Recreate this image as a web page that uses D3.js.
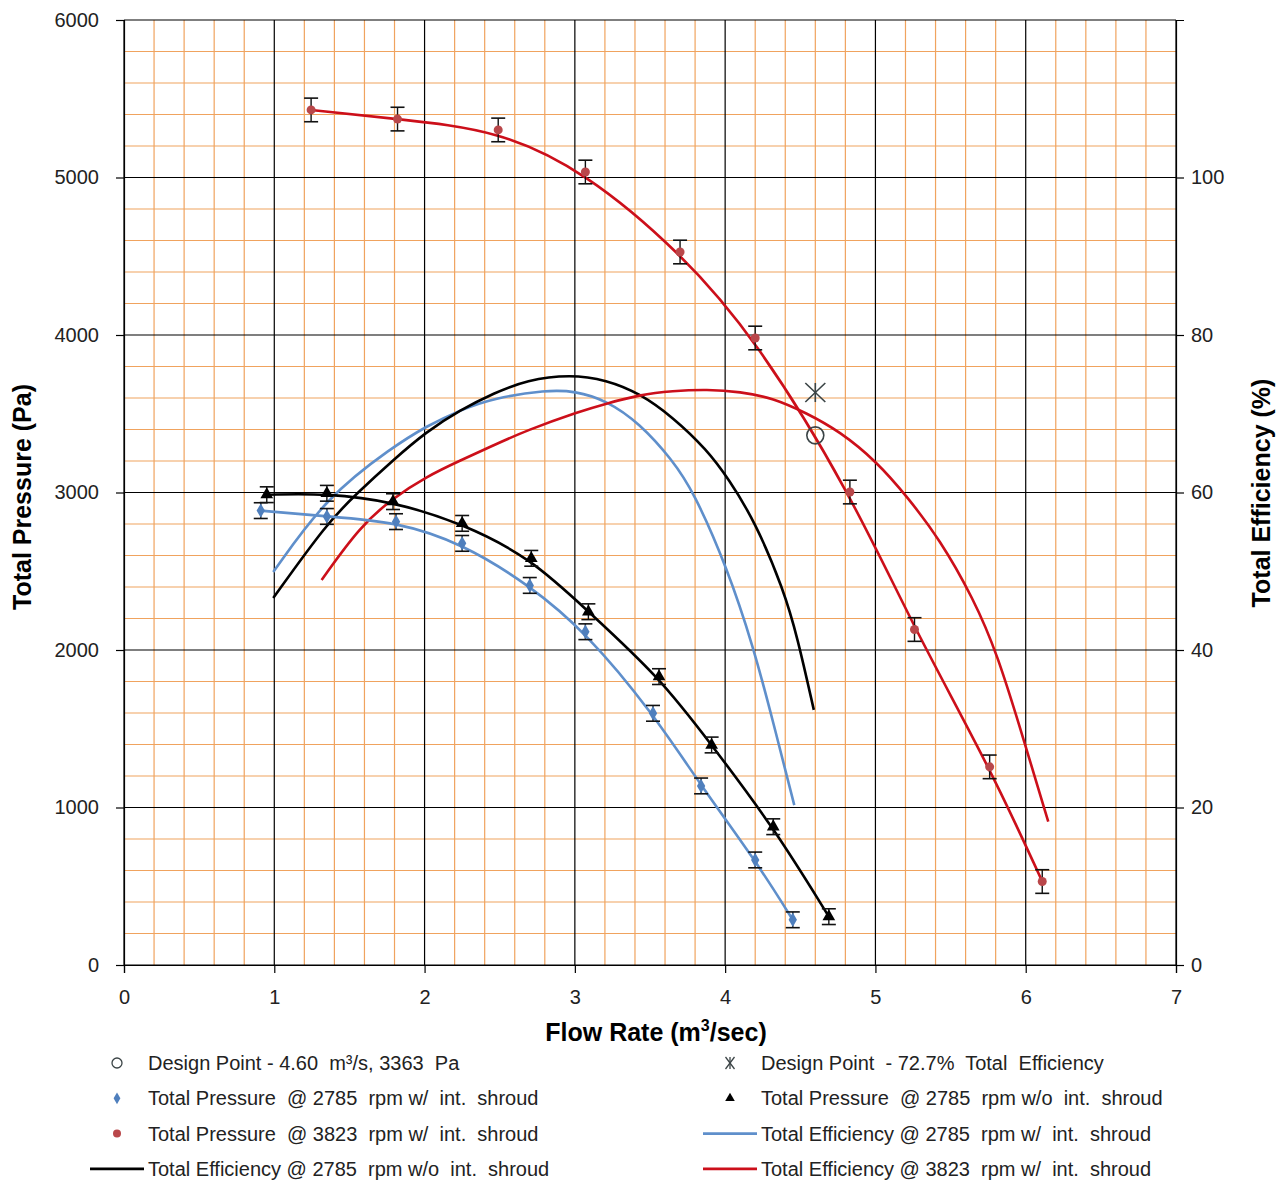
<!DOCTYPE html>
<html>
<head>
<meta charset="utf-8">
<script src="https://cdn.jsdelivr.net/npm/d3@7"></script>
<style>
  body { margin: 0; background: #fff; }
  svg { font-family: "Liberation Sans", Arial, sans-serif; }
</style>
</head>
<body>
<div id="chart"></div>
<script>
// Flow rate (m3/s) and total pressure (Pa) measurements
const flowBlue = [0.91, 1.35, 1.81, 2.25, 2.70, 3.07, 3.52, 3.84, 4.20, 4.45];
const presBlue = [2885, 2848, 2815, 2677, 2410, 2116, 1598, 1137, 667, 287];

const flowBlack = [0.95, 1.35, 1.79, 2.25, 2.71, 3.09, 3.56, 3.91, 4.32, 4.69];
const presBlack = [2986, 2995, 2942, 2804, 2582, 2243, 1831, 1397, 878, 307];

const flowRed = [1.245, 1.82, 2.49, 3.07, 3.70, 4.20, 4.83, 5.26, 5.76, 6.11];
const presRed = [5429, 5371, 5302, 5035, 4527, 3981, 3003, 2130, 1258, 530];

// error bar half-heights (Pa)
const errBlue = 50, errBlack = 50, errRed = 75;

// Efficiency curves (%), read along the trendlines
const effBlueX = [0.993, 1.35, 1.79, 2.01, 2.24, 2.46, 2.81, 3.00, 3.21, 3.43, 3.65, 3.79, 4.01, 4.19, 4.32, 4.46];
const effBlueY = [49.9, 59.5, 65.8, 68.4, 70.5, 72.0, 73.0, 72.9, 71.7, 68.8, 64.1, 60.1, 50.6, 40.3, 30.8, 20.3];

const effBlackX = [0.993, 1.35, 1.55, 1.79, 2.01, 2.24, 2.46, 2.68, 2.97, 3.21, 3.43, 3.65, 3.88, 4.02, 4.20, 4.39, 4.48, 4.59];
const effBlackY = [46.6, 56.1, 59.9, 64.1, 67.7, 70.5, 72.6, 74.3, 75.0, 74.3, 72.6, 69.6, 65.4, 61.8, 56.3, 47.6, 41.7, 32.4];

const effRedX = [1.315, 1.57, 1.79, 2.01, 2.24, 2.46, 2.68, 3.03, 3.21, 3.43, 3.65, 3.88, 4.10, 4.32, 4.54, 4.76, 5.01, 5.21, 5.43, 5.65, 5.81, 5.99, 6.15];
const effRedY = [48.9, 55.7, 59.3, 62.0, 64.1, 66.0, 67.9, 70.3, 71.3, 72.4, 72.9, 73.1, 72.8, 72.0, 70.1, 67.8, 63.9, 59.5, 54.0, 46.6, 39.6, 28.4, 18.2];

// Design point
const designFlow = 4.60, designPres = 3363, designEff = 72.7;

const xTicks = [0, 1, 2, 3, 4, 5, 6, 7];
const yTicks = [0, 1000, 2000, 3000, 4000, 5000, 6000];
const yrTicks = [0, 20, 40, 60, 80, 100];

const legendLeft = [
  { label: "Design Point - 4.60  m\u00B3/s, 3363  Pa", sym: "open" },
  { label: "Total Pressure  @ 2785  rpm w/  int.  shroud", sym: "diamond" },
  { label: "Total Pressure  @ 3823  rpm w/  int.  shroud", sym: "dot" },
  { label: "Total Efficiency @ 2785  rpm w/o  int.  shroud", sym: "lineBlack" }
];
const legendRight = [
  { label: "Design Point  - 72.7%  Total  Efficiency", sym: "star" },
  { label: "Total Pressure  @ 2785  rpm w/o  int.  shroud", sym: "triangle" },
  { label: "Total Efficiency @ 2785  rpm w/  int.  shroud", sym: "lineBlue" },
  { label: "Total Efficiency @ 3823  rpm w/  int.  shroud", sym: "lineRed" }
];

const W = 1285, H = 1181;
const margin = { top: 20, right: 109, bottom: 216, left: 124 };
const BLUE_LINE = "#5f8fcb", BLUE_MK = "#4f7fbd", RED_LINE = "#cc0f1a", RED_MK = "#b9474a";
const GRID = "#f0a35e";

const svg = d3.select("#chart").append("svg")
  .attr("width", W).attr("height", H);

const x = d3.scaleLinear().domain([0, 7]).range([margin.left, W - margin.right]);
const y = d3.scaleLinear().domain([0, 6000]).range([H - margin.bottom, margin.top]);
const yr = d3.scaleLinear().domain([0, 120]).range([H - margin.bottom, margin.top]);

// minor grid
const g = svg.append("g");
d3.range(1, 35).filter(i => i % 5 !== 0).forEach(i => {
  g.append("line").attr("x1", x(i * 0.2)).attr("x2", x(i * 0.2))
    .attr("y1", y(0)).attr("y2", y(6000)).attr("stroke", GRID).attr("stroke-width", 1.2);
});
d3.range(1, 30).filter(i => i % 5 !== 0).forEach(i => {
  g.append("line").attr("x1", x(0)).attr("x2", x(7))
    .attr("y1", y(i * 200)).attr("y2", y(i * 200)).attr("stroke", GRID).attr("stroke-width", 1.2);
});
// major grid
xTicks.forEach(t => g.append("line").attr("x1", x(t)).attr("x2", x(t))
  .attr("y1", y(0)).attr("y2", y(6000)).attr("stroke", "#000").attr("stroke-width", 1.2));
yTicks.forEach(t => g.append("line").attr("x1", x(0)).attr("x2", x(7))
  .attr("y1", y(t)).attr("y2", y(t)).attr("stroke", "#000").attr("stroke-width", 1.2));

// axes
const axisStyle = sel => {
  sel.select(".domain").attr("stroke", "#000").attr("stroke-width", 1.2);
  sel.selectAll(".tick line").attr("stroke", "#000").attr("stroke-width", 1.2);
  sel.selectAll(".tick text").attr("font-size", 20).attr("fill", "#222")
    .attr("font-family", "Liberation Sans, Arial, sans-serif");
};
svg.append("g").attr("transform", `translate(0,${y(0)})`)
  .call(d3.axisBottom(x).tickValues(xTicks).tickSize(8).tickPadding(17).tickFormat(d3.format("d")))
  .call(axisStyle);
svg.append("g").attr("transform", `translate(${x(0)},0)`)
  .call(d3.axisLeft(y).tickValues(yTicks).tickSize(8).tickPadding(17).tickFormat(d3.format("d")))
  .call(axisStyle);
svg.append("g").attr("transform", `translate(${x(7)},0)`)
  .call(d3.axisRight(yr).tickValues(yrTicks).tickSize(8).tickPadding(7).tickFormat(d3.format("d")))
  .call(axisStyle);

// axis titles
svg.append("text").attr("transform", `translate(31,497) rotate(-90)`)
  .attr("text-anchor", "middle").attr("font-size", 25).attr("font-weight", "bold")
  .text("Total Pressure (Pa)");
svg.append("text").attr("transform", `translate(1270,493) rotate(-90)`)
  .attr("text-anchor", "middle").attr("font-size", 25).attr("font-weight", "bold")
  .text("Total Efficiency (%)");
const xt = svg.append("text").attr("x", 656).attr("y", 1041)
  .attr("text-anchor", "middle").attr("font-size", 25).attr("font-weight", "bold");
xt.append("tspan").text("Flow Rate (m");
xt.append("tspan").attr("font-size", 16).attr("dy", -10).text("3");
xt.append("tspan").attr("dy", 10).text("/sec)");

// curves
const smooth = d3.line().curve(d3.curveBasis);
const pts = (xs, ys, sy) => xs.map((v, i) => [x(v), sy(ys[i])]);
const plot = svg.append("g");

plot.append("path").attr("d", smooth(pts(effBlueX, effBlueY, yr)))
  .attr("fill", "none").attr("stroke", BLUE_LINE).attr("stroke-width", 2.6);
plot.append("path").attr("d", smooth(pts(effBlackX, effBlackY, yr)))
  .attr("fill", "none").attr("stroke", "#000").attr("stroke-width", 2.6);
plot.append("path").attr("d", smooth(pts(effRedX, effRedY, yr)))
  .attr("fill", "none").attr("stroke", RED_LINE).attr("stroke-width", 2.6);

plot.append("path").attr("d", smooth(pts(flowBlue, presBlue, y)))
  .attr("fill", "none").attr("stroke", BLUE_LINE).attr("stroke-width", 2.6);
plot.append("path").attr("d", smooth(pts(flowBlack, presBlack, y)))
  .attr("fill", "none").attr("stroke", "#000").attr("stroke-width", 2.6);
plot.append("path").attr("d", smooth(pts(flowRed, presRed, y)))
  .attr("fill", "none").attr("stroke", RED_LINE).attr("stroke-width", 2.6);

// error bars
function errorBars(xs, ys, e) {
  xs.forEach((v, i) => {
    const cx = x(v), t = y(ys[i] + e), b = y(ys[i] - e);
    plot.append("line").attr("x1", cx).attr("x2", cx).attr("y1", t).attr("y2", b)
      .attr("stroke", "#111").attr("stroke-width", 1.4);
    [t, b].forEach(yy => plot.append("line").attr("x1", cx - 7).attr("x2", cx + 7)
      .attr("y1", yy).attr("y2", yy).attr("stroke", "#111").attr("stroke-width", 1.6));
  });
}
errorBars(flowBlue, presBlue, errBlue);
errorBars(flowBlack, presBlack, errBlack);
errorBars(flowRed, presRed, errRed);

// markers
const diamond = d3.symbol().type(d3.symbolDiamond).size(60);
const triangle = d3.symbol().type(d3.symbolTriangle).size(70);
flowBlue.forEach((v, i) => plot.append("path").attr("d", diamond)
  .attr("transform", `translate(${x(v)},${y(presBlue[i])})`).attr("fill", BLUE_MK));
flowBlack.forEach((v, i) => plot.append("path").attr("d", triangle)
  .attr("transform", `translate(${x(v)},${y(presBlack[i])})`).attr("fill", "#000"));
flowRed.forEach((v, i) => plot.append("circle")
  .attr("cx", x(v)).attr("cy", y(presRed[i])).attr("r", 4.5).attr("fill", RED_MK));

// design point markers
function star(sel, cx, cy, rx, ry, w) {
  [[0, -ry, 0, ry], [-rx, -ry, rx, ry], [-rx, ry, rx, -ry]]
    .forEach(s => sel.append("line").attr("x1", cx + s[0]).attr("y1", cy + s[1])
      .attr("x2", cx + s[2]).attr("y2", cy + s[3]).attr("stroke", "#3b4446").attr("stroke-width", w));
}
plot.append("circle").attr("cx", x(designFlow)).attr("cy", y(designPres)).attr("r", 8.5)
  .attr("fill", "none").attr("stroke", "#3b4446").attr("stroke-width", 1.6);
star(plot, x(designFlow), yr(designEff), 10, 9.5, 1.6);

// legend
function legendSymbol(sel, sym, cx, cy) {
  if (sym === "open") sel.append("circle").attr("cx", cx).attr("cy", cy).attr("r", 5)
    .attr("fill", "none").attr("stroke", "#3b4446").attr("stroke-width", 1.3);
  if (sym === "diamond") sel.append("path").attr("d", d3.symbol().type(d3.symbolDiamond).size(40))
    .attr("transform", `translate(${cx},${cy})`).attr("fill", BLUE_MK);
  if (sym === "dot") sel.append("circle").attr("cx", cx).attr("cy", cy).attr("r", 4).attr("fill", RED_MK);
  if (sym === "triangle") sel.append("path").attr("d", d3.symbol().type(d3.symbolTriangle).size(40))
    .attr("transform", `translate(${cx},${cy})`).attr("fill", "#000");
  if (sym === "star") star(sel, cx, cy, 4.5, 6, 1.3);
  const lc = { lineBlack: "#000", lineBlue: BLUE_LINE, lineRed: RED_LINE }[sym];
  if (lc) sel.append("line").attr("x1", cx - 27).attr("x2", cx + 27).attr("y1", cy).attr("y2", cy)
    .attr("stroke", lc).attr("stroke-width", 2.6);
}
const leg = svg.append("g");
[[legendLeft, 117, 148], [legendRight, 730, 761]].forEach(([items, sx, tx]) => {
  items.forEach((d, i) => {
    const cy = 1063 + i * 35.3;
    legendSymbol(leg, d.sym, sx, cy);
    leg.append("text").attr("x", tx).attr("y", cy + 7).attr("font-size", 20)
      .attr("fill", "#222").attr("xml:space", "preserve").style("white-space", "pre")
      .text(d.label);
  });
});
</script>
</body>
</html>
